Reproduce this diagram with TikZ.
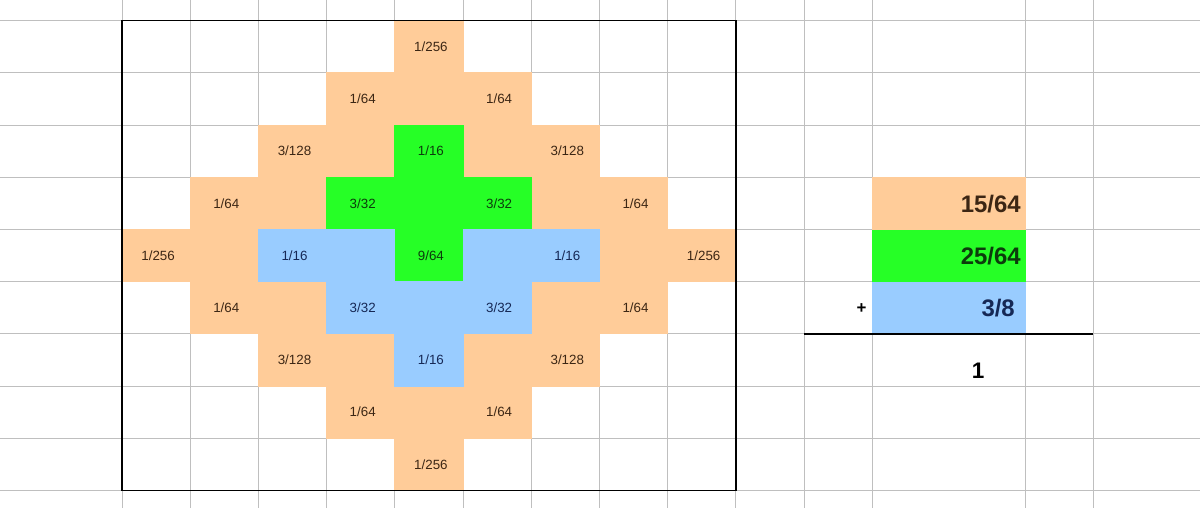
\documentclass[tikz,border=0pt]{standalone}
\usepackage{fontspec}
\setmainfont{Liberation Sans}
\usepackage{tikz}

\definecolor{peach}{RGB}{255,204,153}
\definecolor{lime}{RGB}{38,255,38}
\definecolor{sky}{RGB}{153,204,255}
\definecolor{peachtxt}{RGB}{60,38,20}
\definecolor{limetxt}{RGB}{12,60,12}
\definecolor{skytxt}{RGB}{22,40,85}

\begin{document}
\begin{tikzpicture}[x=0.025cm,y=-0.025cm,
            gl/.style={gray!50,line width=0.6pt},
            og/.style={fill=peach},
            gr/.style={fill=lime},
            bl/.style={fill=sky},
            sm/.style={font=\fontsize{9.5}{11}\selectfont,inner sep=0pt},
            big/.style={font=\fontsize{17}{20}\selectfont\bfseries,inner sep=0pt,anchor=east}]

            \useasboundingbox (0,0) rectangle (1200,508);
            \clip (0,0) rectangle (1200,508);
            \fill[white] (0,0) rectangle (1200,508);

            % the sheet's grid lines
            \foreach \c in {0,...,11}
                \draw[gl] ({122+68.2*\c},0) -- ({122+68.2*\c},508);
            \draw[gl] (1025,0) -- (1025,508);
            \draw[gl] (1093,0) -- (1093,508);
            \foreach \r in {0,...,9}
                \draw[gl] (0,{20.7+52.2*\r}) -- (1200,{20.7+52.2*\r});

            % the coloured cells of the 9x9 board
            \foreach \c/\r in {4/0, 3/1,4/1,5/1, 2/2,3/2,5/2,6/2, 1/3,2/3,6/3,7/3,
                    0/4,1/4,7/4,8/4, 1/5,2/5,6/5,7/5, 2/6,3/6,5/6,6/6, 3/7,4/7,5/7, 4/8}
                \fill[og] ({122+68.2*\c-0.5},{20.7+52.2*\r-0.5}) rectangle +(69.2,53.2);
            \foreach \c/\r in {4/2, 3/3,4/3,5/3, 4/4}
                \fill[gr] ({122+68.2*\c-0.5},{20.7+52.2*\r-0.5}) rectangle +(69.2,53.2);
            \foreach \c/\r in {2/4,3/4,5/4,6/4, 3/5,4/5,5/5, 4/6}
                \fill[bl] ({122+68.2*\c-0.5},{20.7+52.2*\r-0.5}) rectangle +(69.2,53.2);

            % probabilities in the cells
            \foreach \c/\r/\t in {4/0/1\slash256, 3/1/1\slash64, 5/1/1\slash64, 2/2/3\slash128,
                    6/2/3\slash128, 1/3/1\slash64, 7/3/1\slash64, 0/4/1\slash256, 8/4/1\slash256,
                    1/5/1\slash64, 7/5/1\slash64, 2/6/3\slash128, 6/6/3\slash128,
                    3/7/1\slash64, 5/7/1\slash64, 4/8/1\slash256}
                \node[sm,text=peachtxt] (p\c\r) at ({124+68.2*(\c+0.5)},{20.7+52.2*(\r+0.5)}) {\t};
            \foreach \c/\r/\t in {4/2/1\slash16, 3/3/3\slash32, 5/3/3\slash32, 4/4/9\slash64}
                \node[sm,text=limetxt] (g\c\r) at ({124+68.2*(\c+0.5)},{20.7+52.2*(\r+0.5)}) {\t};
            \foreach \c/\r/\t in {2/4/1\slash16, 6/4/1\slash16, 3/5/3\slash32, 5/5/3\slash32, 4/6/1\slash16}
                \node[sm,text=skytxt] (b\c\r) at ({124+68.2*(\c+0.5)},{20.7+52.2*(\r+0.5)}) {\t};

            % frame round the board
            \draw[black,line width=1.1pt] (122,20.7) rectangle (735.8,490.5);

            % the sum on the right
            \fill[og] (871.7,177.3) rectangle (1025.5,230);
            \fill[gr] (871.7,229.5) rectangle (1025.5,282.2);
            \fill[bl] (871.7,281.7) rectangle (1025.5,334.1);
            \node[big,text=peachtxt] (s1) at (1021,204) {15/64};
            \node[big,text=limetxt]  (s2) at (1021,256) {25/64};
            \node[big,text=skytxt]   (s3) at (1015,308) {3/8};
            \node[font=\fontsize{12}{14}\selectfont\bfseries,inner sep=0pt] (plus) at (861.5,308.5) {+};
            \draw[black,line width=1.1pt] (804,334.1) -- (1093,334.1);
            \node[font=\fontsize{16}{19}\selectfont\bfseries,inner sep=0pt] (tot) at (978,371) {1};
        \end{tikzpicture}
\end{document}
